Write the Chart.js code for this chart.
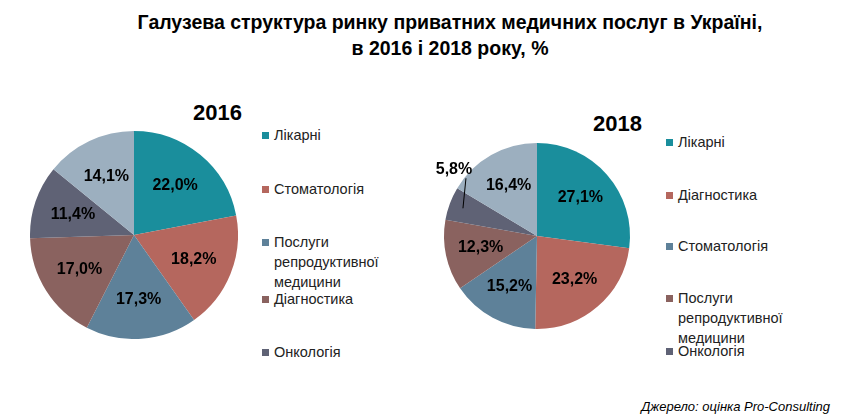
<!DOCTYPE html>
<html><head><meta charset="utf-8">
<script src="https://cdn.jsdelivr.net/npm/chart.js@4"></script>
<style>
body{margin:0;width:867px;height:419px;background:#fff;font-family:Arial,"Liberation Sans",sans-serif;position:relative;overflow:hidden}
.abs{position:absolute}
.t{left:0;width:900px;text-align:center;font-weight:bold;font-size:19.5px;line-height:26px;top:9px;color:#000}
.yr{font-weight:bold;font-size:22px}
.lg{font-size:14.5px;color:#222;line-height:20px}
.lg span{position:absolute;width:7px;height:7px;left:0;top:7px}
.lg div{padding-left:12px}
.src{font-style:italic;font-size:13px;right:37px;top:399px}
</style></head><body>
<div class="abs t">Галузева структура ринку приватних медичних послуг в Україні,<br>в 2016 і 2018 року, %</div>
<div class="abs yr" style="left:193px;top:100px">2016</div>
<div class="abs yr" style="left:593px;top:111px">2018</div>
<div class="abs" style="left:30px;top:131px;width:208px;height:208px"><canvas id="c1"></canvas></div>
<div class="abs" style="left:414px;top:113px;width:246px;height:246px"><canvas id="c2"></canvas></div>
<div id="lg1"></div><div id="lg2"></div>
<div class="abs src">Джерело: оцінка Pro-Consulting</div>
<script>
const colors = ["#1a8e9c", "#b5675e", "#5e8199", "#8a625f", "#5f6275", "#9cafbf"];
const labels2016 = ["Лікарні", "Стоматологія", "Послуги репродуктивної медицини", "Діагностика", "Онкологія", "Інше"];
const values2016 = [22.0, 18.2, 17.3, 17.0, 11.4, 14.1];
const labels2018 = ["Лікарні", "Діагностика", "Стоматологія", "Послуги репродуктивної медицини", "Онкологія", "Інше"];
const values2018 = [27.1, 23.2, 15.2, 12.3, 5.8, 16.4];

const fmt = (v) => v.toFixed(1).replace(".", ",") + "%";

const labelPlugin = {
  id: "lbl",
  afterDatasetsDraw(chart) {
    const ctx = chart.ctx;
    const vals = chart.data.datasets[0].data;
    ctx.save();
    ctx.font = "bold 16px Arial";
    ctx.fillStyle = "#000";
    ctx.textAlign = "center";
    ctx.textBaseline = "middle";
    chart.getDatasetMeta(0).data.forEach((arc, i) => {
      const a = (arc.startAngle + arc.endAngle) / 2;
      if (vals[i] < 8) {
        // small slice: label outside with leader line
        const px = arc.x + Math.cos(a) * arc.outerRadius * 0.85;
        const py = arc.y + Math.sin(a) * arc.outerRadius * 0.85;
        ctx.strokeStyle = "#000";
        ctx.lineWidth = 1;
        ctx.beginPath();
        ctx.moveTo(px, py);
        ctx.lineTo(px + 3, py - 30);
        ctx.stroke();
        ctx.fillText(fmt(vals[i]), px - 9, py - 39);
        return;
      }
      const r = arc.outerRadius * 0.62;
      ctx.fillText(fmt(vals[i]), arc.x + Math.cos(a) * r, arc.y + Math.sin(a) * r);
    });
    ctx.restore();
  }
};

function makePie(id, labels, values, pad) {
  new Chart(document.getElementById(id), {
    type: "pie",
    data: { labels: labels, datasets: [{ data: values, backgroundColor: colors, borderWidth: 0 }] },
    options: {
      responsive: true, maintainAspectRatio: false, animation: false,
      layout: { padding: pad },
      plugins: { legend: { display: false }, tooltip: { enabled: false } }
    },
    plugins: [labelPlugin]
  });
}
makePie("c1", labels2016, values2016, 0);
makePie("c2", labels2018, values2018, 30);

function legend(id, labels, x, ys) {
  const el = document.getElementById(id);
  labels.slice(0, 5).forEach((l, i) => {
    const d = document.createElement("div");
    d.className = "abs lg";
    d.style.left = x + "px";
    d.style.top = ys[i] + "px";
    d.style.width = "150px";
    d.innerHTML = '<span style="background:' + colors[i] + '"></span><div>' + l + "</div>";
    el.appendChild(d);
  });
}
legend("lg1", labels2016, 262, [125, 179, 232, 289, 342]);
legend("lg2", labels2018, 666, [132, 185, 236, 288, 341]);
</script>
</body></html>
